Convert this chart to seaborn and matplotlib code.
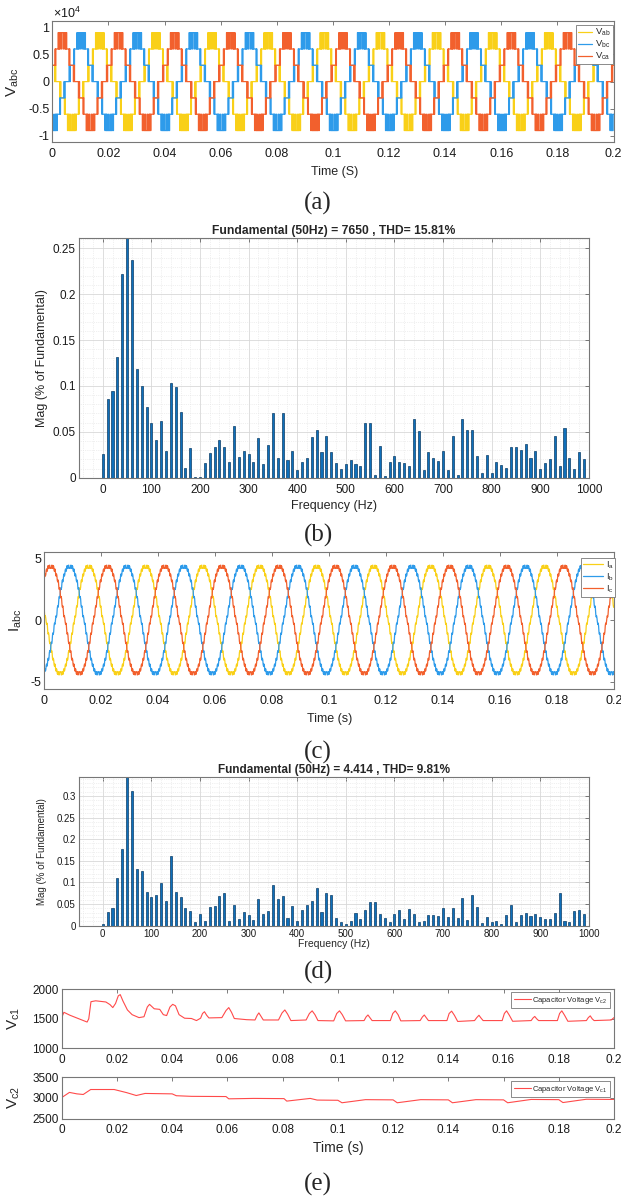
import numpy as np
import pandas as pd
import seaborn as sns
import matplotlib.pyplot as plt
from matplotlib.ticker import MultipleLocator, FuncFormatter

sns.set_style("white")
plt.rcParams['font.family'] = ['Liberation Sans', 'DejaVu Sans']
plt.rcParams['mathtext.fontset'] = 'custom'
plt.rcParams['mathtext.rm'] = 'Liberation Sans'
plt.rcParams['mathtext.it'] = 'Liberation Sans:italic'

# ---------------- data ----------------
# (a) line voltage staircase, one quarter wave in 2.5 degree steps (V)
v_quarter = [0, 0, 0, 0, 0, 3000, 3000, 0, 3000, 3000, 3000, 3000, 3000, 3000, 3000, 3000, 3000,
             6000, 3000, 6000, 6000, 6000, 6000, 6000, 6000, 9000, 6000, 6000,
             9000, 6000, 9000, 9000, 9000, 6000, 9000, 9000]
v_peak_deg = [304, 184, 64]            # ab, bc, ca
v_labels = ['V$_{\\mathrm{ab}}$', 'V$_{\\mathrm{bc}}$', 'V$_{\\mathrm{ca}}$']

# (c) phase current with ripple, one quarter wave in 2.5 degree steps (A)
i_quarter = [0.15, 0.35, 0.25, 0.45, 0.95, 1.15, 1.04, 1.23, 1.72, 1.91, 1.80, 1.98,
             2.45, 2.62, 2.49, 2.65, 3.11, 3.26, 3.10, 3.24, 3.62, 3.75, 3.57, 3.68,
             4.05, 4.15, 3.95, 4.03, 4.35, 4.42, 4.18, 4.22, 4.45, 4.45, 4.20, 4.25]
i_peak_deg = [285, 165, 45]            # a, b, c
i_labels = ['I$_{\\mathrm{a}}$', 'I$_{\\mathrm{b}}$', 'I$_{\\mathrm{c}}$']

n_cycles = 10
t_end = 0.2

# (b) voltage spectrum, (d) current spectrum (% of fundamental)
freqs = list(range(0, 1000, 10))
mag_v = [0.026, 0.086, 0.094, 0.132, 0.222, 0.28, 0.237, 0.118, 0.100, 0.077,
         0.060, 0.041, 0.062, 0.029, 0.103, 0.099, 0.072, 0.011, 0.032, 0.001,
         0.001, 0.016, 0.027, 0.034, 0.041, 0.034, 0.017, 0.056, 0.023, 0.029,
         0.026, 0.017, 0.043, 0.015, 0.036, 0.071, 0.022, 0.070, 0.019, 0.029,
         0.008, 0.017, 0.022, 0.044, 0.052, 0.028, 0.045, 0.028, 0.016, 0.010,
         0.015, 0.019, 0.015, 0.013, 0.060, 0.060, 0.003, 0.035, 0.002, 0.017,
         0.024, 0.017, 0.016, 0.013, 0.064, 0.051, 0.008, 0.028, 0.021, 0.018,
         0.029, 0.008, 0.046, 0.003, 0.064, 0.052, 0.052, 0.024, 0.005, 0.025,
         0.005, 0.017, 0.014, 0.011, 0.033, 0.033, 0.030, 0.037, 0.022, 0.029,
         0.009, 0.016, 0.020, 0.045, 0.013, 0.054, 0.022, 0.009, 0.028, 0.020]
mag_i = [0.004, 0.031, 0.041, 0.111, 0.178, 0.36, 0.312, 0.130, 0.126, 0.078,
         0.066, 0.071, 0.098, 0.057, 0.161, 0.078, 0.066, 0.040, 0.034, 0.009,
         0.028, 0.012, 0.043, 0.046, 0.068, 0.076, 0.010, 0.048, 0.015, 0.031,
         0.025, 0.013, 0.062, 0.027, 0.035, 0.095, 0.062, 0.069, 0.017, 0.045,
         0.012, 0.036, 0.048, 0.058, 0.088, 0.031, 0.075, 0.071, 0.018, 0.008,
         0.004, 0.010, 0.030, 0.016, 0.036, 0.055, 0.055, 0.026, 0.018, 0.008,
         0.026, 0.036, 0.016, 0.039, 0.026, 0.009, 0.012, 0.024, 0.024, 0.022,
         0.041, 0.021, 0.041, 0.018, 0.065, 0.013, 0.072, 0.043, 0.006, 0.020,
         0.008, 0.012, 0.003, 0.024, 0.047, 0.008, 0.025, 0.029, 0.022, 0.028,
         0.020, 0.016, 0.016, 0.030, 0.076, 0.010, 0.009, 0.034, 0.037, 0.028]
title_v = 'Fundamental (50Hz) = 7650 , THD= 15.81%'
title_i = 'Fundamental (50Hz) = 4.414 , THD= 9.81%'

# (e) capacitor voltages
vc1_t = [0.0, 0.0008, 0.003, 0.0092, 0.0098, 0.0106, 0.0123, 0.016, 0.0175, 0.0185, 0.0195, 0.0205, 0.0212,
         0.0222, 0.0238, 0.0255, 0.028, 0.0298, 0.031, 0.0318, 0.0335, 0.0355, 0.0368, 0.038, 0.0392, 0.0402,
         0.0412, 0.0425, 0.0445, 0.047, 0.0488, 0.0503, 0.051, 0.0517, 0.0525, 0.0533, 0.058, 0.0595, 0.0605,
         0.0615, 0.0625, 0.067, 0.07, 0.0708, 0.0714, 0.0722, 0.073, 0.0785, 0.0798, 0.0808, 0.0818, 0.083,
         0.0885, 0.0897, 0.0907, 0.0917, 0.0928, 0.0985, 0.0996, 0.1006, 0.1016, 0.1028, 0.1095, 0.1102,
         0.1109, 0.1116, 0.1124, 0.119, 0.1199, 0.1208, 0.1218, 0.1228, 0.1298, 0.1306, 0.1313, 0.132,
         0.1328, 0.1395, 0.1403, 0.1412, 0.1422, 0.1434, 0.1495, 0.1503, 0.1511, 0.1518, 0.1526, 0.1595,
         0.1603, 0.1611, 0.1621, 0.1633, 0.17, 0.1707, 0.1713, 0.172, 0.1727, 0.1795, 0.1803, 0.1811, 0.1821,
         0.1833, 0.19, 0.1907, 0.1914, 0.1921, 0.1928, 0.199, 0.2]
vc1_v = [1520, 1610, 1560, 1445, 1500, 1790, 1805, 1785, 1740, 1690, 1760, 1890, 1910,
         1800, 1650, 1570, 1520, 1535, 1700, 1745, 1670, 1660, 1570, 1555, 1700, 1745,
         1720, 1570, 1510, 1505, 1470, 1510, 1590, 1620, 1560, 1515, 1520, 1640, 1690,
         1610, 1505, 1485, 1480, 1560, 1600, 1540, 1480, 1480, 1600, 1650, 1580, 1470,
         1480, 1590, 1635, 1570, 1470, 1465, 1590, 1635, 1570, 1465, 1470, 1530,
         1565, 1520, 1470, 1470, 1590, 1635, 1570, 1465, 1470, 1530, 1565, 1520,
         1470, 1470, 1590, 1630, 1560, 1455, 1470, 1520, 1560, 1515, 1470, 1470,
         1590, 1635, 1560, 1458, 1470, 1515, 1540, 1500, 1470, 1470, 1590, 1635, 1560,
         1458, 1470, 1520, 1550, 1500, 1470, 1480, 1520]
vc2_t = [0.0, 0.0028, 0.0055, 0.0078, 0.0105, 0.019, 0.0235, 0.027, 0.0302, 0.04, 0.0415, 0.047, 0.0595,
         0.0605, 0.0695, 0.0805, 0.0815, 0.09, 0.0925, 0.1, 0.1015, 0.11, 0.12, 0.1215, 0.13, 0.14, 0.1415,
         0.15, 0.16, 0.1615, 0.17, 0.18, 0.1815, 0.19, 0.2]
vc2_v = [3010, 3135, 3100, 3085, 3205, 3205, 3130, 3060, 3110, 3100, 3055, 3040, 3035,
         2980, 2990, 2985, 2925, 2990, 2950, 2945, 2885, 2960, 2955, 2885, 2960, 2955, 2885,
         2960, 2955, 2885, 2965, 2960, 2890, 2970, 2965]

# ---------------- layout helpers ----------------
W, H = 621, 1198
fig = plt.figure(figsize=(W / 100, H / 100), dpi=100)


def box(x0, y0, x1, y1):
    return fig.add_axes([x0 / W, 1 - y1 / H, (x1 - x0) / W, (y1 - y0) / H])


def ftext(x, y, s, **kw):
    fig.text(x / W, 1 - y / H, s, ha='center', va='center', **kw)


def style(ax, size, xpad=4.5):
    for sp in ax.spines.values():
        sp.set_color('#777777')
        sp.set_linewidth(0.8)
    ax.tick_params(direction='in', top=True, right=True, length=3, width=0.6,
                   color='#666666', labelsize=size, labelcolor='#1a1a1a')
    ax.tick_params(axis='x', pad=xpad)
    ax.tick_params(axis='y', pad=2)
    ax.tick_params(which='minor', length=0)


fmt = FuncFormatter(lambda v, p: '%g' % round(v, 6))
colors3 = ['#F9D018', '#2E9BEA', '#F2602D']


def three_phase(quarter, peaks, step_deg):
    half = list(quarter) + list(quarter[::-1])
    base = np.array(half + [-v for v in half], dtype=float)
    waves = []
    for p in peaks:
        waves.append(np.tile(np.roll(base, int(round((p - 90) / step_deg))), n_cycles))
    t = np.arange(len(waves[0])) * t_end / len(waves[0])
    return t, waves


def small_legend(ax, anchor, size, hl):
    leg = ax.legend(loc='upper right', bbox_to_anchor=anchor, borderaxespad=0, fontsize=size,
                    handlelength=hl, handletextpad=0.3, borderpad=0.2, labelspacing=0.05,
                    fancybox=False, framealpha=1, edgecolor='#777777')
    leg.get_frame().set_linewidth(0.6)


# ---------------- (a) line voltages ----------------
ax = box(52.3, 20.7, 613.5, 141.7)
t_v, v_waves = three_phase(v_quarter, v_peak_deg, 2.5)
for w, c, lab in zip(v_waves, colors3, v_labels):
    sns.lineplot(x=np.append(t_v, t_end), y=np.append(w, w[-1]), ax=ax, color=c, lw=0.9,
                 drawstyle='steps-post', estimator=None, sort=False, label=lab)
ax.set_xlim(0, t_end)
ax.set_ylim(-1.105e4, 1.12e4)
ax.set_xticks(np.arange(0, 0.201, 0.02))
ax.set_yticks([-1e4, -5e3, 0, 5e3, 1e4])
ax.xaxis.set_major_formatter(fmt)
ax.yaxis.set_major_formatter(FuncFormatter(lambda v, p: '%g' % (v / 1e4)))
style(ax, 9)
small_legend(ax, (0.9986, 0.964), 6.8, 1.5)
fig.text(53 / W, 1 - 13 / H, '$\\times$10$^4$', ha='left', va='center', fontsize=9, color='#1a1a1a')
ftext(13, 82, 'V$_{\\mathrm{abc}}$', rotation=90, fontsize=11)
ftext(335, 172, 'Time (S)', fontsize=9)
ftext(318, 203, '(a)', fontsize=18, family='Liberation Serif')


# ---------------- FFT bars ----------------
def fft_panel(y0, y1, mags, top, title, tsize, lsize, ylsize, xpad):
    ax = box(78.5, y0, 588.8, y1)
    sns.barplot(x=freqs, y=mags, native_scale=True, width=0.42, color='#0F6FBA', saturation=1,
                edgecolor='#0B3C66', linewidth=0.5, ax=ax)
    ax.set_xlim(-50, 1000)
    ax.set_ylim(0, top)
    ax.set_xticks(range(0, 1001, 100))
    ax.set_yticks(np.arange(0, top, 0.05))
    ax.xaxis.set_minor_locator(MultipleLocator(20))
    ax.yaxis.set_minor_locator(MultipleLocator(0.01))
    ax.xaxis.set_major_formatter(fmt)
    ax.yaxis.set_major_formatter(fmt)
    ax.set_axisbelow(True)
    ax.grid(which='major', color='#d8d8d8', lw=0.6)
    ax.grid(which='minor', color='#e2e2e2', lw=0.5, ls=':')
    ax.set_xlabel('')
    ax.set_ylabel('')
    style(ax, lsize, xpad)
    ax.set_title(title, fontsize=tsize, fontweight='bold', pad=3)
    ftext(41.8, (y0 + y1) / 2, 'Mag (% of Fundamental)', rotation=90, fontsize=ylsize)
    return ax


fft_panel(238.3, 477.7, mag_v, 0.261, title_v, 8.7, 8.5, 9, 4.5)
ftext(334, 506, 'Frequency (Hz)', fontsize=9)
ftext(318, 535, '(b)', fontsize=18, family='Liberation Serif')

# ---------------- (c) currents ----------------
ax = box(43.8, 551.7, 614, 689)
t_i, i_waves = three_phase(i_quarter, i_peak_deg, 2.5)
for w, c, lab in zip(i_waves, colors3, i_labels):
    sns.lineplot(x=np.append(t_i, t_end), y=np.append(w, w[0]), ax=ax, color=c, lw=0.9,
                 estimator=None, sort=False, label=lab)
ax.set_xlim(0, t_end)
ax.set_ylim(-5.6, 5.55)
ax.set_xticks(np.arange(0, 0.201, 0.02))
ax.set_yticks([-5, 0, 5])
ax.xaxis.set_major_formatter(fmt)
ax.yaxis.set_major_formatter(fmt)
style(ax, 9)
small_legend(ax, (1.0026, 0.956), 6.5, 2.2)
ftext(16, 620, 'I$_{\\mathrm{abc}}$', rotation=90, fontsize=11)
ftext(330, 719, 'Time (s)', fontsize=9)
ftext(318, 752, '(c)', fontsize=18, family='Liberation Serif')

# ---------------- (d) current spectrum ----------------
fft_panel(777.3, 925.7, mag_i, 0.343, title_i, 8.5, 7, 7, 2.5)
ftext(334, 944, 'Frequency (Hz)', fontsize=7.5)
ftext(318, 972, '(d)', fontsize=18, family='Liberation Serif')


# ---------------- (e) capacitor voltages ----------------
def cap_panel(y0, y1, t, v, lims, ticks, lab, ylab, ly):
    ax = box(61.7, y0, 614, y1)
    sns.lineplot(x=t, y=v, ax=ax, color='#FF4A4A', lw=0.8, estimator=None, sort=False, label=lab)
    ax.set_xlim(0, t_end)
    ax.set_ylim(*lims)
    ax.set_xticks(np.arange(0, 0.201, 0.02))
    ax.set_yticks(ticks)
    ax.xaxis.set_major_formatter(fmt)
    ax.yaxis.set_major_formatter(fmt)
    style(ax, 8.5, 4)
    leg = ax.legend(loc='upper right', bbox_to_anchor=(0.993, ly), borderaxespad=0, fontsize=5.5,
                    handlelength=2.2, handletextpad=0.2, borderpad=0.35,
                    fancybox=False, framealpha=1, edgecolor='#777777')
    leg.get_frame().set_linewidth(0.6)
    ftext(14, (y0 + y1) / 2, ylab, rotation=90, fontsize=11)


cap_panel(989.3, 1048.3, vc1_t, vc1_v, (1000, 2000), [1000, 1500, 2000],
          'Capacitor Voltage V$_{\\mathrm{c2}}$', 'V$_{\\mathrm{c1}}$', 0.954)
cap_panel(1077.3, 1118.7, vc2_t, vc2_v, (2500, 3500), [2500, 3000, 3500],
          'Capacitor Voltage V$_{\\mathrm{c1}}$', 'V$_{\\mathrm{c2}}$', 0.91)
ftext(338, 1148, 'Time (s)', fontsize=10)
ftext(318, 1184, '(e)', fontsize=18, family='Liberation Serif')

fig.savefig('out.png', dpi=100)
